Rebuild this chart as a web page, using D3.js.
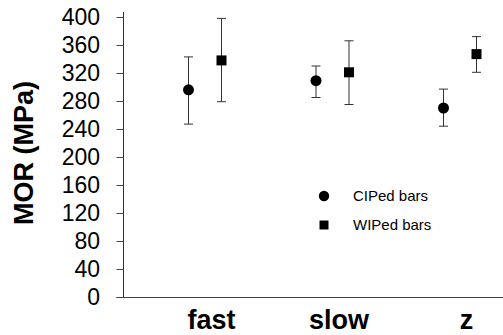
<!DOCTYPE html>
<html lang="en">
<head>
<meta charset="utf-8">
<title>MOR chart</title>
<script src="https://cdn.jsdelivr.net/npm/d3@7"></script>
<style>
  body { margin: 0; background: #fff; }
  svg { display: block; font-family: Arial, "Liberation Sans", sans-serif; }
</style>
</head>
<body>
<script>
  var w = 503;
  var h = 335;

  // data
  var categories = ["fast", "slow", "z"];
  var series = ["CIPed bars", "WIPed bars"];
  var cipMean = [296, 309, 270];
  var cipLow = [247, 285, 244];
  var cipHigh = [343, 330, 297];
  var wipMean = [338, 321, 347];
  var wipLow = [279, 275, 321];
  var wipHigh = [398, 366, 372];
  var yTicks = [0, 40, 80, 120, 160, 200, 240, 280, 320, 360, 400];

  var points = [];
  categories.forEach(function(c, i) {
    points.push({ cat: c, s: 0, v: cipMean[i], lo: cipLow[i], hi: cipHigh[i] });
    points.push({ cat: c, s: 1, v: wipMean[i], lo: wipLow[i], hi: wipHigh[i] });
  });

  var svg = d3.select("body").append("svg")
              .attr("width", w)
              .attr("height", h);

  var y = d3.scaleLinear().domain([0, 400]).range([297, 17]);
  var x = d3.scalePoint().domain(categories).range([205, 460]);
  var offset = d3.scalePoint().domain([0, 1]).range([-16.5, 16.5]);
  var axisX = 123.5;

  // y axis
  var yAxis = svg.append("g")
                 .attr("transform", "translate(" + axisX + ",0)")
                 .call(d3.axisLeft(y).tickValues(yTicks).tickSize(7).tickPadding(16.5).tickSizeOuter(0));
  yAxis.select(".domain").attr("stroke", "#333").attr("d", "M0," + (y(400) - 5) + "V" + y(0));
  yAxis.selectAll(".tick line").attr("stroke", "#444");
  yAxis.selectAll(".tick text")
       .attr("fill", "#000")
       .style("font-size", "23px")
       .style("font-family", "Arial, 'Liberation Sans', sans-serif");

  // x axis line
  svg.append("line")
     .attr("x1", axisX - 7).attr("x2", w)
     .attr("y1", y(0) + 0.5).attr("y2", y(0) + 0.5)
     .attr("stroke", "#444");

  // category labels
  var xAxis = svg.append("g")
                 .attr("transform", "translate(0," + y(0) + ")")
                 .call(d3.axisBottom(x).tickSize(0).tickPadding(13));
  xAxis.select(".domain").remove();
  xAxis.selectAll(".tick text")
       .attr("fill", "#000")
       .attr("dx", 6)
       .style("font-size", "27px")
       .style("font-weight", "bold")
       .style("font-family", "Arial, 'Liberation Sans', sans-serif");

  // y title
  svg.append("text")
     .attr("transform", "translate(33,153) rotate(-90)")
     .attr("text-anchor", "middle")
     .style("font-size", "27px")
     .style("font-weight", "bold")
     .text("MOR (MPa)");

  // error bars
  var bars = svg.append("g").attr("class", "errors");
  bars.selectAll("line.stem")
      .data(points).enter().append("line")
      .attr("class", "stem")
      .attr("x1", function(d) { return x(d.cat) + offset(d.s); })
      .attr("x2", function(d) { return x(d.cat) + offset(d.s); })
      .attr("y1", function(d) { return y(d.hi); })
      .attr("y2", function(d) { return y(d.lo); })
      .attr("stroke", "#333");
  bars.selectAll("line.capTop")
      .data(points).enter().append("line")
      .attr("class", "capTop")
      .attr("x1", function(d) { return x(d.cat) + offset(d.s) - 4.5; })
      .attr("x2", function(d) { return x(d.cat) + offset(d.s) + 4.5; })
      .attr("y1", function(d) { return y(d.hi); })
      .attr("y2", function(d) { return y(d.hi); })
      .attr("stroke", "#333");
  bars.selectAll("line.capBot")
      .data(points).enter().append("line")
      .attr("class", "capBot")
      .attr("x1", function(d) { return x(d.cat) + offset(d.s) - 4.5; })
      .attr("x2", function(d) { return x(d.cat) + offset(d.s) + 4.5; })
      .attr("y1", function(d) { return y(d.lo); })
      .attr("y2", function(d) { return y(d.lo); })
      .attr("stroke", "#333");

  // markers
  var sym = [d3.symbolCircle, d3.symbolSquare];
  var symSize = [95, 100];
  svg.append("g").selectAll("path")
     .data(points).enter().append("path")
     .attr("transform", function(d) { return "translate(" + (x(d.cat) + offset(d.s)) + "," + y(d.v) + ")"; })
     .attr("d", function(d) { return d3.symbol().type(sym[d.s]).size(symSize[d.s])(); })
     .attr("fill", "#000");

  // legend
  var legend = svg.append("g").attr("transform", "translate(324,196)");
  var items = legend.selectAll("g")
                    .data(series).enter().append("g")
                    .attr("transform", function(d, i) { return "translate(0," + (i * 29) + ")"; });
  items.append("path")
       .attr("d", function(d, i) { return d3.symbol().type(sym[i]).size(i ? 81 : 85)(); })
       .attr("fill", "#000");
  items.append("text")
       .attr("x", 29)
       .attr("dy", "0.35em")
       .style("font-size", "15px")
       .text(function(d) { return d; });
</script>
</body>
</html>
